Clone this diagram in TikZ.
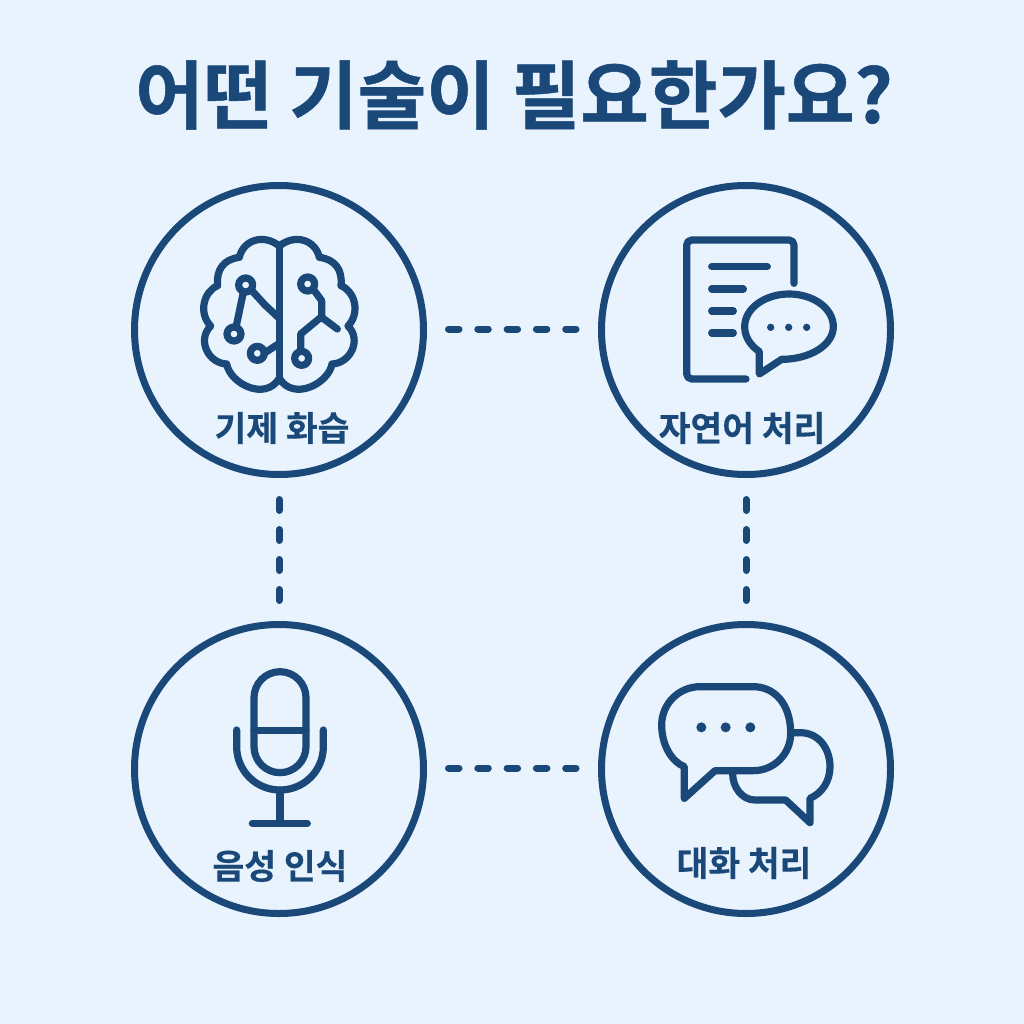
\documentclass[tikz,border=0pt]{standalone}
\usepackage{fontspec}
\newfontfamily\cjk{Noto Sans CJK KR}[BoldFont={Noto Sans CJK KR Bold},BoldFeatures={FakeBold=0.35}]
\newfontfamily\cjktitle{Noto Sans CJK KR Bold}[FakeBold=0.7]
\definecolor{navy}{HTML}{1A4879}
\definecolor{bgblue}{HTML}{E8F3FD}
\tikzset{
  x=1pt,y=-1pt,
  ring/.style={circle,draw=navy,line width=7pt,minimum size=289pt,inner sep=0pt},
  titletext/.style={text=navy,font=\cjktitle\fontsize{74.5}{80}\selectfont,inner sep=0pt},
  labeltext/.style={text=navy,font=\cjk\bfseries\fontsize{34.5}{38}\selectfont,inner sep=0pt},
  hdash/.style={draw=navy,line width=7pt,dash pattern=on 10.5pt off 18.8pt,line cap=round},
  vdash/.style={draw=navy,line width=7pt,dash pattern=on 11pt off 19pt,line cap=round},
  icon/.style={draw=navy,line width=7.2pt,line cap=round,line join=round},
  iconfine/.style={x=0.33333pt,y=-0.33333pt}
}
\newcommand{\halfbrain}{
  (298,78) .. controls (250,40) and (190,60) .. (178,112)
  .. controls (130,118) and (108,150) .. (113,197)
  .. controls (70,215) and (55,280) .. (92,318)
  .. controls (50,360) and (85,430) .. (140,432)
  .. controls (150,490) and (255,545) .. (298,475)
}
\begin{document}
\begin{tikzpicture}
\useasboundingbox (0,0) rectangle (1024,1024);
\fill[bgblue] (0,0) rectangle (1024,1024);
\node[titletext] (title) at (514,95) {어떤 기술이 필요한가요?};
\node[ring] (ml) at (279,330) {};
\node[ring] (nlp) at (746,330) {};
\node[ring] (asr) at (279,769) {};
\node[ring] (dlg) at (746,769) {};
\coordinate (a1) at (448.5,329); \coordinate (a2) at (576,329);
\coordinate (b1) at (448.5,768); \coordinate (b2) at (576,768);
\coordinate (c1) at (279,499.5); \coordinate (c2) at (279,600.5);
\coordinate (d1) at (746,499.5); \coordinate (d2) at (746,600.5);
\draw[hdash] (a1) -- (a2);
\draw[hdash] (b1) -- (b2);
\draw[vdash] (c1) -- (c2);
\draw[vdash] (d1) -- (d2);
\node[labeltext] (lml) at (282,428) {기제 화습};
\node[labeltext] (lnlp) at (742,428) {자연어 처리};
\node[labeltext] (lasr) at (280,866) {음성 인식};
\node[labeltext] (ldlg) at (744,863) {대화 처리};
% brain
\begin{scope}[shift={(180pt,-220pt)},iconfine]
  \draw[icon] \halfbrain;
  \begin{scope}[shift={(596*0.33333pt,0pt)},xscale=-1]
    \draw[icon] \halfbrain;
  \end{scope}
  \draw[icon] (298,78) -- (298,475);
  \draw[icon] (197,195) circle (21);
  \draw[icon] (162,342) circle (21);
  \draw[icon] (232,400) circle (21);
  \draw[icon] (383,192) circle (21);
  \draw[icon] (365,415) circle (21);
  \draw[icon] (190,217) -- (168,322);
  \draw[icon] (214,210) -- (255,255) -- (298,295);
  \draw[icon] (252,400) -- (298,370);
  \draw[icon] (400,208) -- (425,242) -- (425,290) -- (362,342) -- (362,393);
  \draw[icon] (425,292) -- (472,327);
\end{scope}
% document
\begin{scope}[shift={(640pt,-220pt)},iconfine]
  \draw[icon,rounded corners=5pt] (318,477) -- (140,477) -- (140,60) -- (462,60) -- (462,190);
  \draw[icon] (215,140) -- (382,140);
  \draw[icon] (215,207) -- (310,207);
  \draw[icon] (215,273) -- (280,273);
  \draw[icon] (215,339) -- (280,339);
  \draw[icon] (358,395) .. controls (330,375) and (314,350) .. (314,320)
    .. controls (314,265) and (375,222) .. (447,222)
    .. controls (520,222) and (580,265) .. (580,320)
    .. controls (580,375) and (510,418) .. (425,418)
    -- (358,462) -- cycle;
  \foreach \p in {392,446,500} \fill[navy] (\p,322) circle (11);
\end{scope}
% microphone
\begin{scope}[shift={(180pt,-650pt)},iconfine]
  \draw[icon] (222,143) .. controls (222,100) and (257,65) .. (300,65)
    .. controls (343,65) and (378,100) .. (378,143) -- (378,290)
    .. controls (378,333) and (343,368) .. (300,368)
    .. controls (257,368) and (222,333) .. (222,290) -- cycle;
  \draw[icon] (222,241) -- (378,241);
  \draw[icon] (170,240) -- (170,290) .. controls (170,362) and (228,420) .. (300,420)
    .. controls (372,420) and (430,362) .. (430,290) -- (430,240);
  \draw[icon] (300,420) -- (300,520);
  \draw[icon] (217,520) -- (382,520);
\end{scope}
% chat
\begin{scope}[shift={(640pt,-670pt)},iconfine]
  \draw[icon] (133,290) -- (133,385) -- (225,302) -- (340,302)
    .. controls (402,302) and (452,252) .. (452,190)
    .. controls (452,100) and (402,50) .. (340,50)
    -- (180,50) .. controls (118,50) and (65,100) .. (65,165)
    .. controls (65,225) and (95,275) .. (133,290) -- cycle;
  \draw[icon] (460,188) -- (480,188) .. controls (540,188) and (570,240) .. (570,290)
    .. controls (570,335) and (545,370) .. (510,385)
    -- (510,458) -- (437,390) -- (345,390)
    .. controls (305,390) and (278,350) .. (278,312);
  \foreach \p in {184,257,331} \fill[navy] (\p,172) circle (15);
\end{scope}
\end{tikzpicture}
\end{document}
